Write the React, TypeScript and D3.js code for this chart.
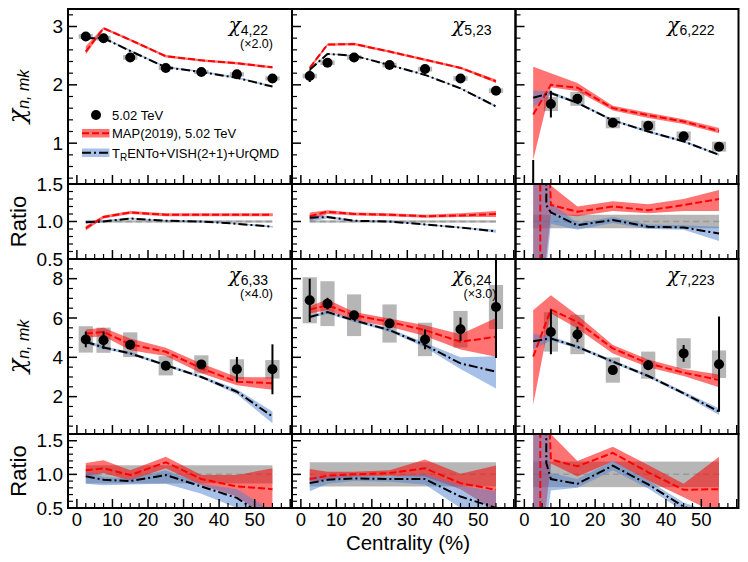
import React from "react";
import * as d3 from "d3";

// ---------- shared axes ----------
const CENT = [2.5, 7.5, 15, 25, 35, 45, 55];
const CENT6 = [7.5, 15, 25, 35, 45, 55];
const X_TICKS = [0, 10, 20, 30, 40, 50];
const TOP_TICKS = [1, 2, 3];
const BOT_TICKS = [2, 4, 6, 8];
const RATIO_TICKS = [0.5, 1.0, 1.5];
const DIV_RED_X = [4.5, 4.5, 7.5, 15, 25, 35, 45, 55];
const DIV_BLK_X = [6.2, 6.2, 7.5, 15, 25, 35, 45, 55];
const DIV_BAND_X = [2.5, 5, 7.5, 15, 25, 35, 45, 55];

// ---------- chi_4,22 (x2.0) ----------
const c422Data = [2.83, 2.80, 2.47, 2.29, 2.22, 2.18, 2.11];
const c422Stat = [0.02, 0.02, 0.02, 0.02, 0.02, 0.02, 0.03];
const c422Syst = [0.04, 0.04, 0.04, 0.035, 0.035, 0.035, 0.035];
const c422Map = [2.57, 2.97, 2.77, 2.49, 2.42, 2.37, 2.30];
const c422MapLo = [2.52, 2.95, 2.75, 2.47, 2.40, 2.35, 2.28];
const c422MapHi = [2.66, 2.99, 2.79, 2.51, 2.44, 2.39, 2.32];
const c422Trn = [2.80, 2.80, 2.58, 2.30, 2.22, 2.12, 1.97];
const c422TrnLo = [2.79, 2.79, 2.57, 2.29, 2.21, 2.11, 1.96];
const c422TrnHi = [2.82, 2.82, 2.60, 2.32, 2.24, 2.14, 1.99];
const c422RMap = [0.91, 1.06, 1.12, 1.09, 1.09, 1.09, 1.09];
const c422RMapLo = [0.88, 1.04, 1.10, 1.07, 1.07, 1.07, 1.07];
const c422RMapHi = [0.94, 1.08, 1.14, 1.11, 1.11, 1.11, 1.11];
const c422RTrn = [0.99, 1.00, 1.04, 1.01, 1.00, 0.97, 0.93];
const c422RTrnLo = [0.97, 0.99, 1.03, 1.00, 0.99, 0.96, 0.92];
const c422RTrnHi = [1.01, 1.02, 1.05, 1.02, 1.01, 0.98, 0.94];

// ---------- chi_5,23 ----------
const c523Data = [2.15, 2.38, 2.47, 2.34, 2.27, 2.11, 1.90];
const c523Stat = [0.10, 0.03, 0.02, 0.02, 0.03, 0.03, 0.03];
const c523Syst = [0.04, 0.04, 0.04, 0.04, 0.04, 0.04, 0.04];
const c523Map = [2.29, 2.69, 2.70, 2.57, 2.43, 2.29, 2.06];
const c523MapLo = [2.26, 2.67, 2.68, 2.55, 2.41, 2.27, 2.03];
const c523MapHi = [2.32, 2.71, 2.72, 2.59, 2.45, 2.31, 2.09];
const c523Trn = [2.26, 2.53, 2.50, 2.34, 2.17, 1.94, 1.63];
const c523TrnLo = [2.24, 2.52, 2.49, 2.33, 2.16, 1.93, 1.61];
const c523TrnHi = [2.28, 2.54, 2.51, 2.35, 2.18, 1.95, 1.65];
const c523RMap = [1.07, 1.13, 1.10, 1.09, 1.07, 1.08, 1.10];
const c523RMapLo = [1.01, 1.10, 1.08, 1.07, 1.05, 1.06, 1.06];
const c523RMapHi = [1.12, 1.15, 1.12, 1.11, 1.09, 1.11, 1.14];
const c523RTrn = [1.05, 1.06, 1.01, 1.00, 0.96, 0.92, 0.87];
const c523RTrnLo = [1.00, 1.04, 1.00, 0.99, 0.95, 0.91, 0.85];
const c523RTrnHi = [1.08, 1.08, 1.02, 1.01, 0.97, 0.93, 0.89];

// ---------- chi_6,222 ----------
const c6222Data = [0.10, 1.67, 1.76, 1.35, 1.30, 1.12, 0.94];
const c6222Stat = [0.61, 0.23, 0.06, 0.03, 0.04, 0.04, 0.05];
const c6222Syst = [0, 0.12, 0.12, 0.095, 0.085, 0.08, 0.085];
const c6222Map = [1.49, 2.00, 1.95, 1.60, 1.48, 1.37, 1.21];
const c6222MapLo = [0.71, 1.96, 1.89, 1.56, 1.43, 1.33, 1.17];
const c6222MapHi = [2.31, 2.20, 2.03, 1.64, 1.52, 1.41, 1.26];
const c6222Trn = [1.78, 1.86, 1.69, 1.39, 1.20, 1.03, 0.80];
const c6222TrnLo = [1.62, 1.83, 1.67, 1.37, 1.18, 1.01, 0.78];
const c6222TrnHi = [1.90, 1.89, 1.71, 1.41, 1.22, 1.05, 0.82];
const c6222RMap = [-5, 5, 1.22, 1.13, 1.20, 1.15, 1.22, 1.30];
const c6222RMapLo = [-5, 0.0, 1.10, 1.07, 1.14, 1.11, 1.14, 1.14];
const c6222RMapHi = [5, 5, 1.48, 1.20, 1.27, 1.23, 1.30, 1.42];
const c6222RTrn = [5, 1.22, 1.12, 0.95, 1.02, 0.93, 0.92, 0.84];
const c6222RTrnLo = [-5, -0.2, 0.97, 0.89, 0.98, 0.90, 0.89, 0.74];
const c6222RTrnHi = [5, 5, 1.25, 0.98, 1.06, 0.96, 0.95, 0.93];

// ---------- chi_6,33 (x4.0) ----------
const c633Data = [4.91, 4.87, 4.64, 3.57, 3.64, 3.39, 3.39];
const c633Stat = [0.40, 0.45, 0.12, 0.10, 0.12, 0.63, 1.27];
const c633Syst = [0.67, 0.64, 0.63, 0.49, 0.46, 0.51, 0.47];
const c633Map = [5.21, 5.29, 4.66, 4.28, 3.44, 2.76, 2.68];
const c633MapLo = [5.00, 5.07, 4.36, 4.07, 3.19, 2.58, 2.35];
const c633MapHi = [5.41, 5.50, 4.96, 4.49, 3.69, 3.00, 2.98];
const c633Trn = [4.79, 4.50, 4.20, 3.60, 3.00, 2.25, 0.99];
const c633TrnLo = [4.70, 4.42, 4.13, 3.53, 2.93, 2.12, 0.65];
const c633TrnHi = [4.88, 4.58, 4.27, 3.67, 3.07, 2.38, 1.24];
const c633RMap = [1.06, 1.09, 0.99, 1.18, 0.93, 0.82, 0.78];
const c633RMapLo = [0.97, 1.02, 0.91, 1.09, 0.84, 0.67, 0.30];
const c633RMapHi = [1.17, 1.21, 1.06, 1.26, 0.99, 0.99, 1.09];
const c633RTrn = [0.97, 0.92, 0.90, 0.99, 0.82, 0.65, 0.29];
const c633RTrnLo = [0.86, 0.84, 0.85, 0.86, 0.71, 0.50, 0.10];
const c633RTrnHi = [1.05, 0.96, 0.94, 1.06, 0.86, 0.78, 0.45];

// ---------- chi_6,24 (x3.0) ----------
const c624Data = [6.90, 6.73, 6.14, 5.72, 4.91, 5.43, 6.56];
const c624Stat = [1.10, 0.30, 0.15, 0.15, 0.50, 0.60, 2.60];
const c624Syst = [1.17, 1.14, 1.06, 0.97, 0.85, 0.93, 1.12];
const c624Map = [6.43, 6.65, 6.14, 5.80, 5.38, 4.79, 5.04];
const c624MapLo = [6.23, 6.39, 5.89, 5.55, 5.08, 4.40, 4.03];
const c624MapHi = [6.60, 6.94, 6.31, 5.97, 5.63, 5.17, 6.00];
const c624Trn = [6.05, 6.30, 5.88, 5.38, 4.62, 3.69, 3.27];
const c624TrnLo = [5.97, 6.22, 5.80, 5.30, 4.50, 3.40, 2.42];
const c624TrnHi = [6.13, 6.38, 5.96, 5.46, 4.74, 4.00, 4.06];
const c624RMap = [0.93, 0.98, 1.00, 1.02, 1.09, 0.87, 0.77];
const c624RMapLo = [0.86, 0.93, 0.97, 0.98, 0.97, 0.78, 0.45];
const c624RMapHi = [1.08, 1.04, 1.04, 1.06, 1.22, 1.01, 1.13];
const c624RTrn = [0.87, 0.92, 0.94, 0.93, 0.93, 0.67, 0.50];
const c624RTrnLo = [0.75, 0.86, 0.90, 0.89, 0.85, 0.50, 0.20];
const c624RTrnHi = [0.97, 0.97, 0.98, 0.97, 1.00, 0.83, 0.75];

// ---------- chi_7,223 ----------
const c7223Data = [5.29, 5.16, 3.35, 3.60, 4.20, 3.65];
const c7223Stat = [1.14, 0.40, 0.05, 0.25, 0.42, 2.42];
const c7223Syst = [1.0, 1.0, 0.64, 0.69, 0.77, 0.70];
const c7223Map = [4.03, 6.43, 5.80, 4.45, 3.69, 3.22, 2.85];
const c7223MapLo = [1.60, 6.23, 5.46, 4.20, 3.49, 3.05, 2.48];
const c7223MapHi = [6.39, 7.16, 6.14, 4.62, 3.89, 3.40, 3.13];
const c7223Trn = [4.82, 4.96, 4.53, 3.78, 3.05, 2.17, 1.24];
const c7223TrnLo = [4.40, 4.85, 4.45, 3.70, 2.97, 2.08, 1.07];
const c7223TrnHi = [5.18, 5.07, 4.61, 3.86, 3.13, 2.26, 1.41];
const c7223RMap = [-5, 5, 1.22, 1.12, 1.32, 1.03, 0.77, 0.78];
const c7223RMapLo = [-5, 0.0, 1.16, 0.97, 1.19, 0.91, 0.66, 0.40];
const c7223RMapHi = [5, 5, 1.60, 1.20, 1.41, 1.14, 0.86, 1.26];
const c7223RTrn = [5, 1.17, 0.93, 0.86, 1.13, 0.85, 0.52, 0.34];
const c7223RTrnLo = [-5, -0.2, 0.76, 0.80, 1.06, 0.79, 0.45, 0.28];
const c7223RTrnHi = [5, 5, 1.02, 0.93, 1.20, 0.91, 0.58, 0.40];

type PanelDef = {
  col: number; row: number; sub: string; scale?: string;
  dataX: number[]; data: number[]; stat: number[]; syst: number[];
  map: number[]; mapLo: number[]; mapHi: number[];
  trn: number[]; trnLo: number[]; trnHi: number[];
  grey: number;
  rMapX: number[]; rMap: number[]; rMapBX: number[]; rMapLo: number[]; rMapHi: number[];
  rTrnX: number[]; rTrn: number[]; rTrnBX: number[]; rTrnLo: number[]; rTrnHi: number[];
};

const PANELS: PanelDef[] = [
  { col: 0, row: 0, sub: "4,22", scale: "(\u00d72.0)", dataX: CENT, data: c422Data, stat: c422Stat, syst: c422Syst,
    map: c422Map, mapLo: c422MapLo, mapHi: c422MapHi, trn: c422Trn, trnLo: c422TrnLo, trnHi: c422TrnHi, grey: 0.015,
    rMapX: CENT, rMap: c422RMap, rMapBX: CENT, rMapLo: c422RMapLo, rMapHi: c422RMapHi,
    rTrnX: CENT, rTrn: c422RTrn, rTrnBX: CENT, rTrnLo: c422RTrnLo, rTrnHi: c422RTrnHi },
  { col: 1, row: 0, sub: "5,23", dataX: CENT, data: c523Data, stat: c523Stat, syst: c523Syst,
    map: c523Map, mapLo: c523MapLo, mapHi: c523MapHi, trn: c523Trn, trnLo: c523TrnLo, trnHi: c523TrnHi, grey: 0.015,
    rMapX: CENT, rMap: c523RMap, rMapBX: CENT, rMapLo: c523RMapLo, rMapHi: c523RMapHi,
    rTrnX: CENT, rTrn: c523RTrn, rTrnBX: CENT, rTrnLo: c523RTrnLo, rTrnHi: c523RTrnHi },
  { col: 2, row: 0, sub: "6,222", dataX: CENT, data: c6222Data, stat: c6222Stat, syst: c6222Syst,
    map: c6222Map, mapLo: c6222MapLo, mapHi: c6222MapHi, trn: c6222Trn, trnLo: c6222TrnLo, trnHi: c6222TrnHi, grey: 0.09,
    rMapX: DIV_RED_X, rMap: c6222RMap, rMapBX: DIV_BAND_X, rMapLo: c6222RMapLo, rMapHi: c6222RMapHi,
    rTrnX: DIV_BLK_X, rTrn: c6222RTrn, rTrnBX: DIV_BAND_X, rTrnLo: c6222RTrnLo, rTrnHi: c6222RTrnHi },
  { col: 0, row: 1, sub: "6,33", scale: "(\u00d74.0)", dataX: CENT, data: c633Data, stat: c633Stat, syst: c633Syst,
    map: c633Map, mapLo: c633MapLo, mapHi: c633MapHi, trn: c633Trn, trnLo: c633TrnLo, trnHi: c633TrnHi, grey: 0.135,
    rMapX: CENT, rMap: c633RMap, rMapBX: CENT, rMapLo: c633RMapLo, rMapHi: c633RMapHi,
    rTrnX: CENT, rTrn: c633RTrn, rTrnBX: CENT, rTrnLo: c633RTrnLo, rTrnHi: c633RTrnHi },
  { col: 1, row: 1, sub: "6,24", scale: "(\u00d73.0)", dataX: CENT, data: c624Data, stat: c624Stat, syst: c624Syst,
    map: c624Map, mapLo: c624MapLo, mapHi: c624MapHi, trn: c624Trn, trnLo: c624TrnLo, trnHi: c624TrnHi, grey: 0.18,
    rMapX: CENT, rMap: c624RMap, rMapBX: CENT, rMapLo: c624RMapLo, rMapHi: c624RMapHi,
    rTrnX: CENT, rTrn: c624RTrn, rTrnBX: CENT, rTrnLo: c624RTrnLo, rTrnHi: c624RTrnHi },
  { col: 2, row: 1, sub: "7,223", dataX: CENT6, data: c7223Data, stat: c7223Stat, syst: c7223Syst,
    map: c7223Map, mapLo: c7223MapLo, mapHi: c7223MapHi, trn: c7223Trn, trnLo: c7223TrnLo, trnHi: c7223TrnHi, grey: 0.19,
    rMapX: DIV_RED_X, rMap: c7223RMap, rMapBX: DIV_BAND_X, rMapLo: c7223RMapLo, rMapHi: c7223RMapHi,
    rTrnX: DIV_BLK_X, rTrn: c7223RTrn, rTrnBX: DIV_BAND_X, rTrnLo: c7223RTrnLo, rTrnHi: c7223RTrnHi },
];

const X_DOMAIN: [number, number] = [-2.5, 60.5];
const COL_X = [68, 292, 515.5, 738.5];
const ROWS = [
  { main: [9, 184], ratio: [184, 259], mainDomain: [0.3, 3.3], ratioDomain: [0.5, 1.5], mainTicks: TOP_TICKS, mainMinor: 0.2 },
  { main: [259, 434], ratio: [434, 508], mainDomain: [0.1, 9], ratioDomain: [0.5, 1.6], mainTicks: BOT_TICKS, mainMinor: 0.5 },
];

const SANS = "'Liberation Sans', Arial, Helvetica, sans-serif";
const SERIF = "'DejaVu Serif', 'Liberation Serif', serif";
const RED = "#ff0000";
const RED_FILL = "rgba(255,0,0,0.55)";
const BLUE_FILL = "rgba(80,130,210,0.5)";
const GREY_FILL = "rgba(110,110,110,0.5)";
const RED_DASH = "7,3";
const BLK_DASH = "9,3,2,3";

function minorTicks(lo: number, hi: number, step: number, majors: number[]) {
  const out: number[] = [];
  const start = Math.ceil((lo + 1e-9) / step);
  for (let k = start; k * step < hi - 1e-9; k++) {
    const v = +(k * step).toFixed(4);
    if (!majors.some((m) => Math.abs(m - v) < 1e-6)) out.push(v);
  }
  return out;
}

function Frame(props: {
  x0: number; x1: number; y0: number; y1: number;
  y: d3.ScaleLinear<number, number>; x: d3.ScaleLinear<number, number>;
  yMajor: number[]; yMinorStep: number; showY: boolean; showX: boolean; yFmt: (v: number) => string;
}) {
  const { x0, x1, y0, y1, x, y, yMajor, yMinorStep, showY, showX, yFmt } = props;
  const [dlo, dhi] = y.domain();
  const yMinor = minorTicks(dlo, dhi, yMinorStep, yMajor);
  const xMinor = minorTicks(X_DOMAIN[0], X_DOMAIN[1], 2.5, [0, 10, 20, 30, 40, 50, 60]);
  const xMajor = [0, 10, 20, 30, 40, 50, 60];
  return (
    <g>
      {yMajor.map((v) => (
        <line key={"ym" + v} x1={x0} x2={x0 + 9} y1={y(v)} y2={y(v)} stroke="#000" strokeWidth={1.5} />
      ))}
      {yMinor.map((v) => (
        <line key={"yn" + v} x1={x0} x2={x0 + 5} y1={y(v)} y2={y(v)} stroke="#000" strokeWidth={1.2} />
      ))}
      {xMajor.map((v) => (
        <line key={"xm" + v} x1={x(v)} x2={x(v)} y1={y1} y2={y1 - 9} stroke="#000" strokeWidth={1.5} />
      ))}
      {xMinor.map((v) => (
        <line key={"xn" + v} x1={x(v)} x2={x(v)} y1={y1} y2={y1 - 5} stroke="#000" strokeWidth={1.2} />
      ))}
      <rect x={x0} y={y0} width={x1 - x0} height={y1 - y0} fill="none" stroke="#000" strokeWidth={2} />
      {showY && yMajor.map((v) => (
        <text key={"yl" + v} x={63} y={y(v)} dy="0.35em" textAnchor="end" fontFamily={SANS} fontSize={19}>{yFmt(v)}</text>
      ))}
      {showX && X_TICKS.map((v) => (
        <text key={"xl" + v} x={x(v)} y={526} textAnchor="middle" fontFamily={SANS} fontSize={18.5}>{v}</text>
      ))}
    </g>
  );
}

function Panel({ p }: { p: PanelDef }) {
  const row = ROWS[p.row];
  const x0 = COL_X[p.col], x1 = COL_X[p.col + 1];
  const x = d3.scaleLinear().domain(X_DOMAIN).range([x0, x1]);
  const ym = d3.scaleLinear().domain(row.mainDomain).range([row.main[1], row.main[0]]);
  const yr = d3.scaleLinear().domain(row.ratioDomain).range([row.ratio[1], row.ratio[0]]);
  const mkArea = (ys: d3.ScaleLinear<number, number>, xs: number[], lo: number[], hi: number[]) =>
    d3.area<number>().x((d) => x(d)).y0((_, i) => ys(lo[i])).y1((_, i) => ys(hi[i]))(xs) || "";
  const mkLine = (ys: d3.ScaleLinear<number, number>, xs: number[], v: number[]) =>
    d3.line<number>().x((d) => x(d)).y((_, i) => ys(v[i]))(xs) || "";
  const idM = `clip-m-${p.row}-${p.col}`;
  const idR = `clip-r-${p.row}-${p.col}`;
  const right = x1;
  const top = row.main[0];
  return (
    <g>
      <defs>
        <clipPath id={idM}><rect x={x0} y={row.main[0]} width={x1 - x0} height={row.main[1] - row.main[0]} /></clipPath>
        <clipPath id={idR}><rect x={x0} y={row.ratio[0]} width={x1 - x0} height={row.ratio[1] - row.ratio[0]} /></clipPath>
      </defs>
      {/* main panel */}
      <g clipPath={`url(#${idM})`}>
        {p.dataX.map((c, i) => p.syst[i] > 0 ? (
          <rect key={"s" + i} x={x(c - 2)} width={x(c + 2) - x(c - 2)} y={ym(p.data[i] + p.syst[i])}
            height={ym(p.data[i] - p.syst[i]) - ym(p.data[i] + p.syst[i])} fill={GREY_FILL} />
        ) : null)}
        <path d={mkArea(ym, CENT, p.mapLo, p.mapHi)} fill={RED_FILL} />
        <path d={mkArea(ym, CENT, p.trnLo, p.trnHi)} fill={BLUE_FILL} />
        <path d={mkLine(ym, CENT, p.map)} fill="none" stroke={RED} strokeWidth={2} strokeDasharray={RED_DASH} />
        <path d={mkLine(ym, CENT, p.trn)} fill="none" stroke="#000" strokeWidth={2} strokeDasharray={BLK_DASH} />
        {p.dataX.map((c, i) => (
          <g key={"p" + i}>
            <line x1={x(c)} x2={x(c)} y1={ym(p.data[i] - p.stat[i])} y2={ym(p.data[i] + p.stat[i])} stroke="#000" strokeWidth={2} />
            <circle cx={x(c)} cy={ym(p.data[i])} r={5} fill="#000" />
          </g>
        ))}
      </g>
      {/* ratio panel */}
      <g clipPath={`url(#${idR})`}>
        <rect x={x(2.5)} width={x(55) - x(2.5)} y={yr(1 + p.grey)} height={yr(1 - p.grey) - yr(1 + p.grey)} fill={GREY_FILL} />
        <line x1={x(2.5)} x2={x(56)} y1={yr(1)} y2={yr(1)} stroke="#999" strokeWidth={1.5} strokeDasharray="6,4" />
        <path d={mkArea(yr, p.rMapBX, p.rMapLo, p.rMapHi)} fill={RED_FILL} />
        <path d={mkArea(yr, p.rTrnBX, p.rTrnLo, p.rTrnHi)} fill={BLUE_FILL} />
        <path d={mkLine(yr, p.rMapX, p.rMap)} fill="none" stroke={RED} strokeWidth={2} strokeDasharray={RED_DASH} />
        <path d={mkLine(yr, p.rTrnX, p.rTrn)} fill="none" stroke="#000" strokeWidth={2} strokeDasharray={BLK_DASH} />
      </g>
      <Frame x0={x0} x1={x1} y0={row.main[0]} y1={row.main[1]} x={x} y={ym} yMajor={row.mainTicks}
        yMinorStep={row.mainMinor} showY={p.col === 0} showX={false} yFmt={(v) => String(v)} />
      <Frame x0={x0} x1={x1} y0={row.ratio[0]} y1={row.ratio[1]} x={x} y={yr} yMajor={RATIO_TICKS}
        yMinorStep={0.1} showY={p.col === 0} showX={p.row === 1} yFmt={(v) => v.toFixed(1)} />
      {/* label */}
      <text x={right - 24} y={top + 23} textAnchor="end">
        <tspan fontFamily={SERIF} fontStyle="italic" fontSize={20}>{"\u03c7"}</tspan>
        <tspan fontFamily={SANS} fontSize={14} dy={3}>{p.sub}</tspan>
      </text>
      {p.scale && (
        <text x={right - 19} y={top + 39} textAnchor="end" fontFamily={SANS} fontSize={12.5}>{p.scale}</text>
      )}
    </g>
  );
}

function Legend() {
  return (
    <g fontFamily={SANS} fontSize={13}>
      <circle cx={96} cy={115} r={5} fill="#000" />
      <text x={112} y={119.5}>5.02 TeV</text>
      <rect x={82} y={129} width={27.5} height={8.5} fill={RED_FILL} />
      <line x1={82} x2={109.5} y1={133.2} y2={133.2} stroke={RED} strokeWidth={2} strokeDasharray={RED_DASH} />
      <text x={112} y={138}>MAP(2019), 5.02 TeV</text>
      <rect x={82} y={148.5} width={27.5} height={8.5} fill={BLUE_FILL} />
      <line x1={82} x2={109.5} y1={152.8} y2={152.8} stroke="#000" strokeWidth={2} strokeDasharray={BLK_DASH} />
      <text x={112} y={157.5}>
        <tspan>T</tspan>
        <tspan fontSize={10} dy={3}>R</tspan>
        <tspan dy={-3}>ENTo+VISH(2+1)+UrQMD</tspan>
      </text>
    </g>
  );
}

export default function App() {
  return (
    <div style={{ position: "absolute", left: 0, top: 0 }}>
      <svg width={748} height={562} style={{ display: "block", background: "#fff" }}>
        {PANELS.map((p, i) => <Panel key={i} p={p} />)}
        <Legend />
        {ROWS.map((r, i) => (
          <g key={"yt" + i}>
            <text transform={`translate(25,${(r.main[0] + r.main[1]) / 2}) rotate(-90)`} textAnchor="middle">
              <tspan fontFamily={SERIF} fontStyle="italic" fontSize={24}>{"\u03c7"}</tspan>
              <tspan fontFamily={SANS} fontStyle="italic" fontSize={16} dy={4}>{"n, mk"}</tspan>
            </text>
            <text transform={`translate(26,${(r.ratio[0] + r.ratio[1]) / 2}) rotate(-90)`} textAnchor="middle"
              fontFamily={SANS} fontSize={22}>Ratio</text>
          </g>
        ))}
        <text x={408} y={549.5} textAnchor="middle" fontFamily={SANS} fontSize={20.5}>Centrality (%)</text>
      </svg>
    </div>
  );
}
